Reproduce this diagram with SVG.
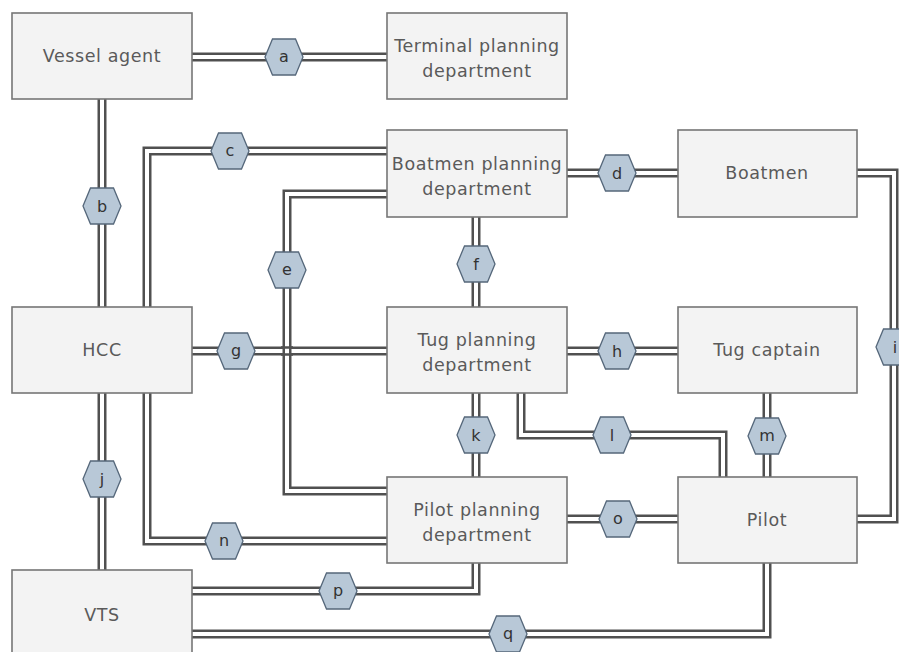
<svg xmlns="http://www.w3.org/2000/svg" width="899" height="652" viewBox="0 0 899 652">
<style>
.bg{fill:#ffffff}
.node rect{fill:#f3f3f3;stroke:#767676;stroke-width:1.6}
.node text{font-family:"DejaVu Sans",Verdana,sans-serif;font-size:17.5px;letter-spacing:0.6px;fill:#5a5a5a;text-anchor:middle}
.o{fill:none;stroke:#505050;stroke-width:9;stroke-linejoin:miter}
.i{fill:none;stroke:#ffffff;stroke-width:4;stroke-linejoin:miter}
.t{fill:none;stroke:#505050;stroke-width:2.5}
.hex{fill:#b8c8d7;stroke:#55677a;stroke-width:1.3}
.hl{font-family:"DejaVu Sans",Verdana,sans-serif;font-size:16px;fill:#333;text-anchor:middle}
</style>
<defs>
<polygon id="hx" points="-19,0 -11.5,-18 11.5,-18 19,0 11.5,18 -11.5,18"/>
</defs>
<rect class="bg" x="0" y="0" width="899" height="652"/>
<g id="connectors">
<path class="o" d="M192,57 H387"/><path class="i" d="M192,57 H387"/>
<path class="o" d="M102,99 V307"/><path class="i" d="M102,99 V307"/>
<path class="o" d="M147,307 V151 H387"/><path class="i" d="M147,307 V151 H387"/>
<path class="o" d="M566,173 H678"/><path class="i" d="M566,173 H678"/>
<path class="o" d="M192,351 H387"/><path class="i" d="M192,351 H387"/>
<path class="o" d="M387,194 H287 V491 H387"/><path class="i" d="M387,194 H287 V491 H387"/>
<path class="t" d="M281,347.6 H293 M281,354.4 H293"/>
<path class="o" d="M476,217 V307"/><path class="i" d="M476,217 V307"/>
<path class="o" d="M566,351 H678"/><path class="i" d="M566,351 H678"/>
<path class="o" d="M857,173 H894 V519 H857"/><path class="i" d="M857,173 H894 V519 H857"/>
<path class="o" d="M102,393 V570"/><path class="i" d="M102,393 V570"/>
<path class="o" d="M476,393 V477"/><path class="i" d="M476,393 V477"/>
<path class="o" d="M521,393 V435 H723 V477"/><path class="i" d="M521,393 V435 H723 V477"/>
<path class="o" d="M767,393 V477"/><path class="i" d="M767,393 V477"/>
<path class="o" d="M147,393 V541 H387"/><path class="i" d="M147,393 V541 H387"/>
<path class="o" d="M566,519 H678"/><path class="i" d="M566,519 H678"/>
<path class="o" d="M192,591 H476 V563"/><path class="i" d="M192,591 H476 V563"/>
<path class="o" d="M192,634 H767 V563"/><path class="i" d="M192,634 H767 V563"/>
<g id="labels">
<use href="#hx" class="hex" x="284" y="57"/><text class="hl" x="284" y="62">a</text>
<use href="#hx" class="hex" x="102" y="206"/><text class="hl" x="102" y="212">b</text>
<use href="#hx" class="hex" x="230" y="151"/><text class="hl" x="230" y="156">c</text>
<use href="#hx" class="hex" x="617" y="173"/><text class="hl" x="617" y="179">d</text>
<use href="#hx" class="hex" x="287" y="270"/><text class="hl" x="287" y="275">e</text>
<use href="#hx" class="hex" x="476" y="264"/><text class="hl" x="476" y="270">f</text>
<use href="#hx" class="hex" x="236" y="351"/><text class="hl" x="236" y="356">g</text>
<use href="#hx" class="hex" x="617" y="351"/><text class="hl" x="617" y="357">h</text>
<use href="#hx" class="hex" x="895" y="347"/><text class="hl" x="895" y="353">i</text>
<use href="#hx" class="hex" x="102" y="479"/><text class="hl" x="102" y="485">j</text>
<use href="#hx" class="hex" x="476" y="435"/><text class="hl" x="476" y="441">k</text>
<use href="#hx" class="hex" x="612" y="435"/><text class="hl" x="612" y="441">l</text>
<use href="#hx" class="hex" x="767" y="436"/><text class="hl" x="767" y="441">m</text>
<use href="#hx" class="hex" x="224" y="541"/><text class="hl" x="224" y="546">n</text>
<use href="#hx" class="hex" x="618" y="519"/><text class="hl" x="618" y="524">o</text>
<use href="#hx" class="hex" x="338" y="591"/><text class="hl" x="338" y="596">p</text>
<use href="#hx" class="hex" x="508" y="634"/><text class="hl" x="508" y="639">q</text>
</g>
</g>
<g id="vessel-agent" class="node"><rect x="12" y="13" width="180" height="86"/><text x="102" y="62">Vessel agent</text></g>
<g id="terminal-planning" class="node"><rect x="387" y="13" width="180" height="86"/><text x="477" y="52">Terminal planning</text><text x="477" y="77">department</text></g>
<g id="boatmen-planning" class="node"><rect x="387" y="130" width="180" height="87"/><text x="477" y="170">Boatmen planning</text><text x="477" y="195">department</text></g>
<g id="boatmen" class="node"><rect x="678" y="130" width="179" height="87"/><text x="767" y="179">Boatmen</text></g>
<g id="hcc" class="node"><rect x="12" y="307" width="180" height="86"/><text x="102" y="356">HCC</text></g>
<g id="tug-planning" class="node"><rect x="387" y="307" width="180" height="86"/><text x="477" y="346">Tug planning</text><text x="477" y="371">department</text></g>
<g id="tug-captain" class="node"><rect x="678" y="307" width="179" height="86"/><text x="767" y="356">Tug captain</text></g>
<g id="pilot-planning" class="node"><rect x="387" y="477" width="180" height="86"/><text x="477" y="516">Pilot planning</text><text x="477" y="541">department</text></g>
<g id="pilot" class="node"><rect x="678" y="477" width="179" height="86"/><text x="767" y="526">Pilot</text></g>
<g id="vts" class="node"><rect x="12" y="570" width="180" height="90"/><text x="102" y="621">VTS</text></g>
</svg>
